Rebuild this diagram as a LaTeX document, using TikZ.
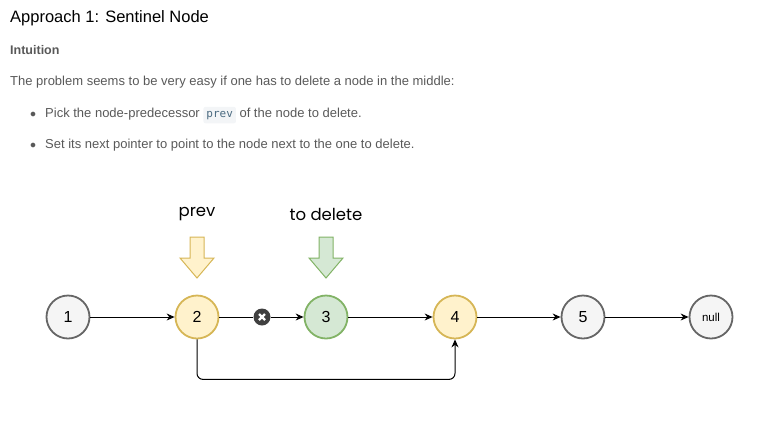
\documentclass[tikz,border=0pt]{standalone}
\usepackage{fontspec}
\setmainfont{Liberation Sans}
\setmonofont{DejaVu Sans Mono}
\newfontfamily\handfont{Poppins}
\usetikzlibrary{calc}
\usetikzlibrary{arrows.meta}
\usetikzlibrary{shapes}
\usetikzlibrary{positioning}

\definecolor{txtgray}{HTML}{595959}
\definecolor{grayfill}{HTML}{F5F5F5}
\definecolor{grayline}{HTML}{666666}
\definecolor{yelfill}{HTML}{FFF2CC}
\definecolor{yelline}{HTML}{D6B656}
\definecolor{grnfill}{HTML}{D5E8D4}
\definecolor{grnline}{HTML}{82B366}
\definecolor{codebg}{HTML}{F3F5F7}
\definecolor{codetxt}{HTML}{4A6A80}

\tikzset{>={Stealth[length=8pt,width=7pt]}}
\tikzstyle{lnode} = [circle, draw = grayline, fill = grayfill, line width = 1.8pt, minimum size = 43pt, inner sep = 0, font = \fontsize{16}{19}\selectfont]
\tikzstyle{prevnode} = [lnode, draw = yelline, fill = yelfill]
\tikzstyle{delnode} = [lnode, draw = grnline, fill = grnfill]
\tikzstyle{link} = [line width = 1pt]
\tikzstyle{para} = [anchor = base west, inner sep = 0, text = txtgray, font = \fontsize{13}{16}\selectfont]
\tikzstyle{hand} = [inner sep = 0, font = \handfont\fontsize{16.5}{19}\selectfont]

\begin{document}
\begin{tikzpicture}[x = 1pt, y = -1pt]
\useasboundingbox (0, 0) rectangle (782, 424);
% text above
\node [anchor = base west, inner sep = 0, font = \fontsize{16.5}{19}\selectfont] (title) at (10, 22) {Approach 1: Sentinel Node};
\node [para, font = \bfseries\fontsize{12.5}{15}\selectfont] (intu) at (10, 54) {Intuition};
\node [para] (probl) at (10, 85) {The problem seems to be very easy if one has to delete a node in the middle:};
\node [para] (dot1) at (30, 117) {$\bullet$};
\node [para] (item1) at (45, 117) {Pick the node-predecessor
  \tikz[baseline = (c.base)] \node [fill = codebg, rounded corners = 2pt, inner xsep = 3pt, inner ysep = 4pt, text = codetxt, font = \ttfamily\fontsize{11}{13}\selectfont] (c) {prev};
  of the node to delete.};
\node [para] (dot2) at (30, 148) {$\bullet$};
\node [para] (item2) at (45, 148) {Set its next pointer to point to the node next to the one to delete.};

% list
\node [lnode] (n1) at (68, 317) {1};
\node [prevnode] (n2) at (197, 317) {2};
\node [delnode] (n3) at (326, 317) {3};
\node [prevnode] (n4) at (455, 317) {4};
\node [lnode] (n5) at (583, 317) {5};
\node [lnode, font = \fontsize{11.5}{13}\selectfont] (nl) at (711, 317) {null};
\node [circle, fill = black!75, minimum size = 17pt, inner sep = 0] (cut) at (262, 317) {};
\draw [white, line width = 2.2pt] ($(cut) + (-3, -3)$) -- ($(cut) + (3, 3)$);
\draw [white, line width = 2.2pt] ($(cut) + (-3, 3)$) -- ($(cut) + (3, -3)$);

\draw [link, ->] (n1) to (n2);
\draw [link] (n2) to (cut);
\draw [link, ->] (cut) to (n3);
\draw [link, ->] (n3) to (n4);
\draw [link, ->] (n4) to (n5);
\draw [link, ->] (n5) to (nl);
\draw [link, ->, rounded corners = 6pt] (n2.south) -- ++(0, 40) -| (n4.south);

% pointers
\node [hand] (lprev) at (197, 214) {prev};
\node [hand] (ldel) at (326, 214) {to delete};
\draw [draw = yelline, fill = yelfill, line width = 1pt] (190, 237) -- (204, 237) -- (204, 258) -- (214, 258) -- (197, 278) -- (180, 258) -- (190, 258) -- cycle;
\draw [draw = grnline, fill = grnfill, line width = 1pt] (319, 237) -- (333, 237) -- (333, 258) -- (343, 258) -- (326, 278) -- (309, 258) -- (319, 258) -- cycle;
\end{tikzpicture}
\end{document}
